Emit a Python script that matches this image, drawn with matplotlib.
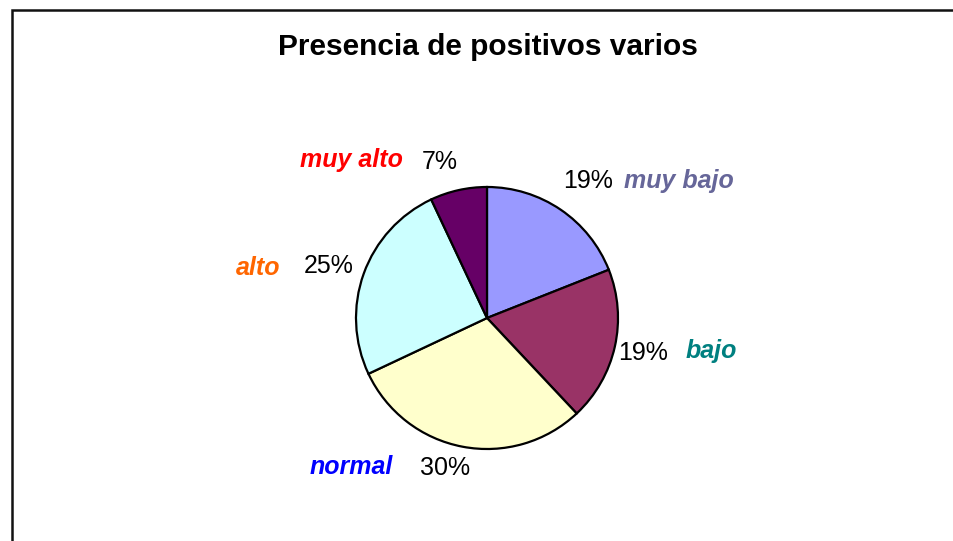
import matplotlib
matplotlib.use('Agg')
import matplotlib.pyplot as plt

#-----DATA-----#
categories = ['muy bajo', 'bajo', 'normal', 'alto', 'muy alto']
values = [19, 19, 30, 25, 7]
pct_labels = ['19%', '19%', '30%', '25%', '7%']
slice_colors = ['#9999FF', '#993366', '#FFFFCC', '#CCFFFF', '#660066']
name_colors = ['#666699', '#008080', '#0000FF', '#FF6600', '#FF0000']
title = 'Presencia de positivos varios'

plt.rcParams['font.family'] = ['Liberation Sans', 'DejaVu Sans']

W, H = 954, 541
fig = plt.figure(figsize=(W / 100, H / 100), dpi=100)
ax = fig.add_axes([0, 0, 1, 1])

# pie, drawn in pixel-like units (y up)
ax.pie(values, colors=slice_colors, startangle=90, counterclock=False,
       center=(487, H - 318), radius=131, frame=True,
       wedgeprops=dict(edgecolor='black', linewidth=1.6))
ax.set_xlim(0, W)
ax.set_ylim(0, H)
ax.set_aspect('equal')
ax.axis('off')

# chart area border (top + left)
ax.plot([12, 12, W], [0, H - 10, H - 10], color='#111111', lw=1.8,
        solid_joinstyle='miter')

ax.text(488, H - 47, title, ha='center', va='center', fontsize=21.5,
        fontweight='bold')

# label layout: (name x, name y, pct x, pct y) in image pixels
layout = [
    (679, 181, 588, 181),
    (711, 351, 643, 353),
    (351, 467, 445, 468),
    (258, 268, 329, 266),
    (351, 160, 440, 162),
]
for name, pct, col, (nx, ny, px, py) in zip(categories, pct_labels,
                                              name_colors, layout):
    ax.text(nx, H - ny, name, ha='center', va='center', fontsize=18,
            fontweight='bold', fontstyle='italic', color=col)
    ax.text(px, H - py, pct, ha='center', va='center', fontsize=18,
            color='black')

fig.savefig('out.png', dpi=100)
